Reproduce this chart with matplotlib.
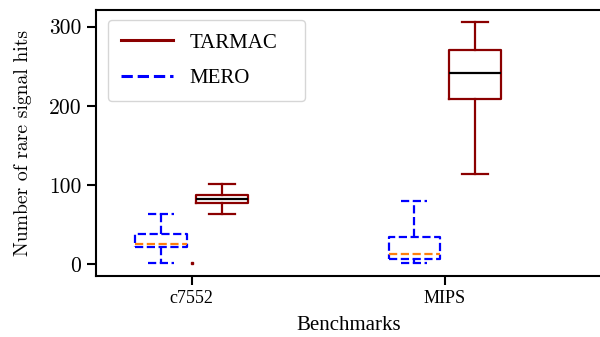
import matplotlib
matplotlib.use("Agg")
import matplotlib.pyplot as plt
from matplotlib.lines import Line2D

categories = ["c7552", "MIPS"]
# five-number summaries per benchmark: (low whisker, Q1, median, Q3, high whisker)
tarmac_low = [63, 114]
tarmac_q1 = [77, 209]
tarmac_med = [82, 241]
tarmac_q3 = [88, 271]
tarmac_high = [101, 306]

mero_low = [1.3, 1.3]
mero_q1 = [21.5, 6.3]
mero_med = [25, 13.4]
mero_q3 = [38, 35]
mero_high = [63, 80]

extra_x = [0]
extra_y = [2]

yticks = [0, 100, 200, 300]

plt.rcParams['axes.formatter.use_mathtext'] = True

fig = plt.figure(figsize=(6.0, 3.37), dpi=100)
ax = fig.add_axes([0.16, 0.182, 0.843, 0.788])

def stats(lo, q1, med, q3, hi):
    return [dict(whislo=a, q1=b, med=c, q3=d, whishi=e, fliers=[])
            for a, b, c, d, e in zip(lo, q1, med, q3, hi)]

pos = list(range(len(categories)))
off = 0.12
w = 0.205

red = "#8B0000"
blue = "#0000FF"
lw = 1.6

ax.bxp(stats(tarmac_low, tarmac_q1, tarmac_med, tarmac_q3, tarmac_high),
       positions=[p + off for p in pos], widths=w, showfliers=False,
       boxprops=dict(color=red, linewidth=lw),
       whiskerprops=dict(color=red, linewidth=lw),
       capprops=dict(color=red, linewidth=lw),
       medianprops=dict(color="black", linewidth=lw))

ax.bxp(stats(mero_low, mero_q1, mero_med, mero_q3, mero_high),
       positions=[p - off for p in pos], widths=w, showfliers=False,
       boxprops=dict(color=blue, linewidth=lw, linestyle="--"),
       whiskerprops=dict(color=blue, linewidth=lw, linestyle="--"),
       capprops=dict(color=blue, linewidth=lw, linestyle="--"),
       medianprops=dict(color="#FF7F0E", linewidth=lw, linestyle="--"))

ax.plot(extra_x, extra_y, marker="s", markersize=2, color=red, linestyle="none")

ax.set_xlim(-0.378, 1.62)
ax.set_ylim(-14.4, 321)
ax.set_xticks(pos)
ax.set_xticklabels(categories, family="Liberation Serif", fontsize=13)
ax.set_yticks(yticks)
ax.set_yticklabels([str(v) for v in yticks], family="cmr10", fontsize=15.5)
ax.set_xlabel("Benchmarks", family="Liberation Serif", fontsize=15, labelpad=6)
ax.set_ylabel("Number of rare signal hits", family="cmr10", fontsize=14.2, labelpad=12)

for s in ax.spines.values():
    s.set_linewidth(1.5)
ax.tick_params(width=1.5, length=6.5, pad=4)

handles = [Line2D([], [], color=red, linewidth=2.2),
           Line2D([], [], color=blue, linewidth=2.2, linestyle="--")]
ax.legend(handles, ["TARMAC", "MERO"], loc="upper left",
          bbox_to_anchor=(0.0237, 0.5, 0.3895, 0.4624), mode="expand",
          borderaxespad=0.0,
          prop=dict(family="Liberation Serif", size=15),
          handlelength=2.5, borderpad=0.62, labelspacing=0.75, handletextpad=0.8)

fig.savefig("out.png", dpi=100)
